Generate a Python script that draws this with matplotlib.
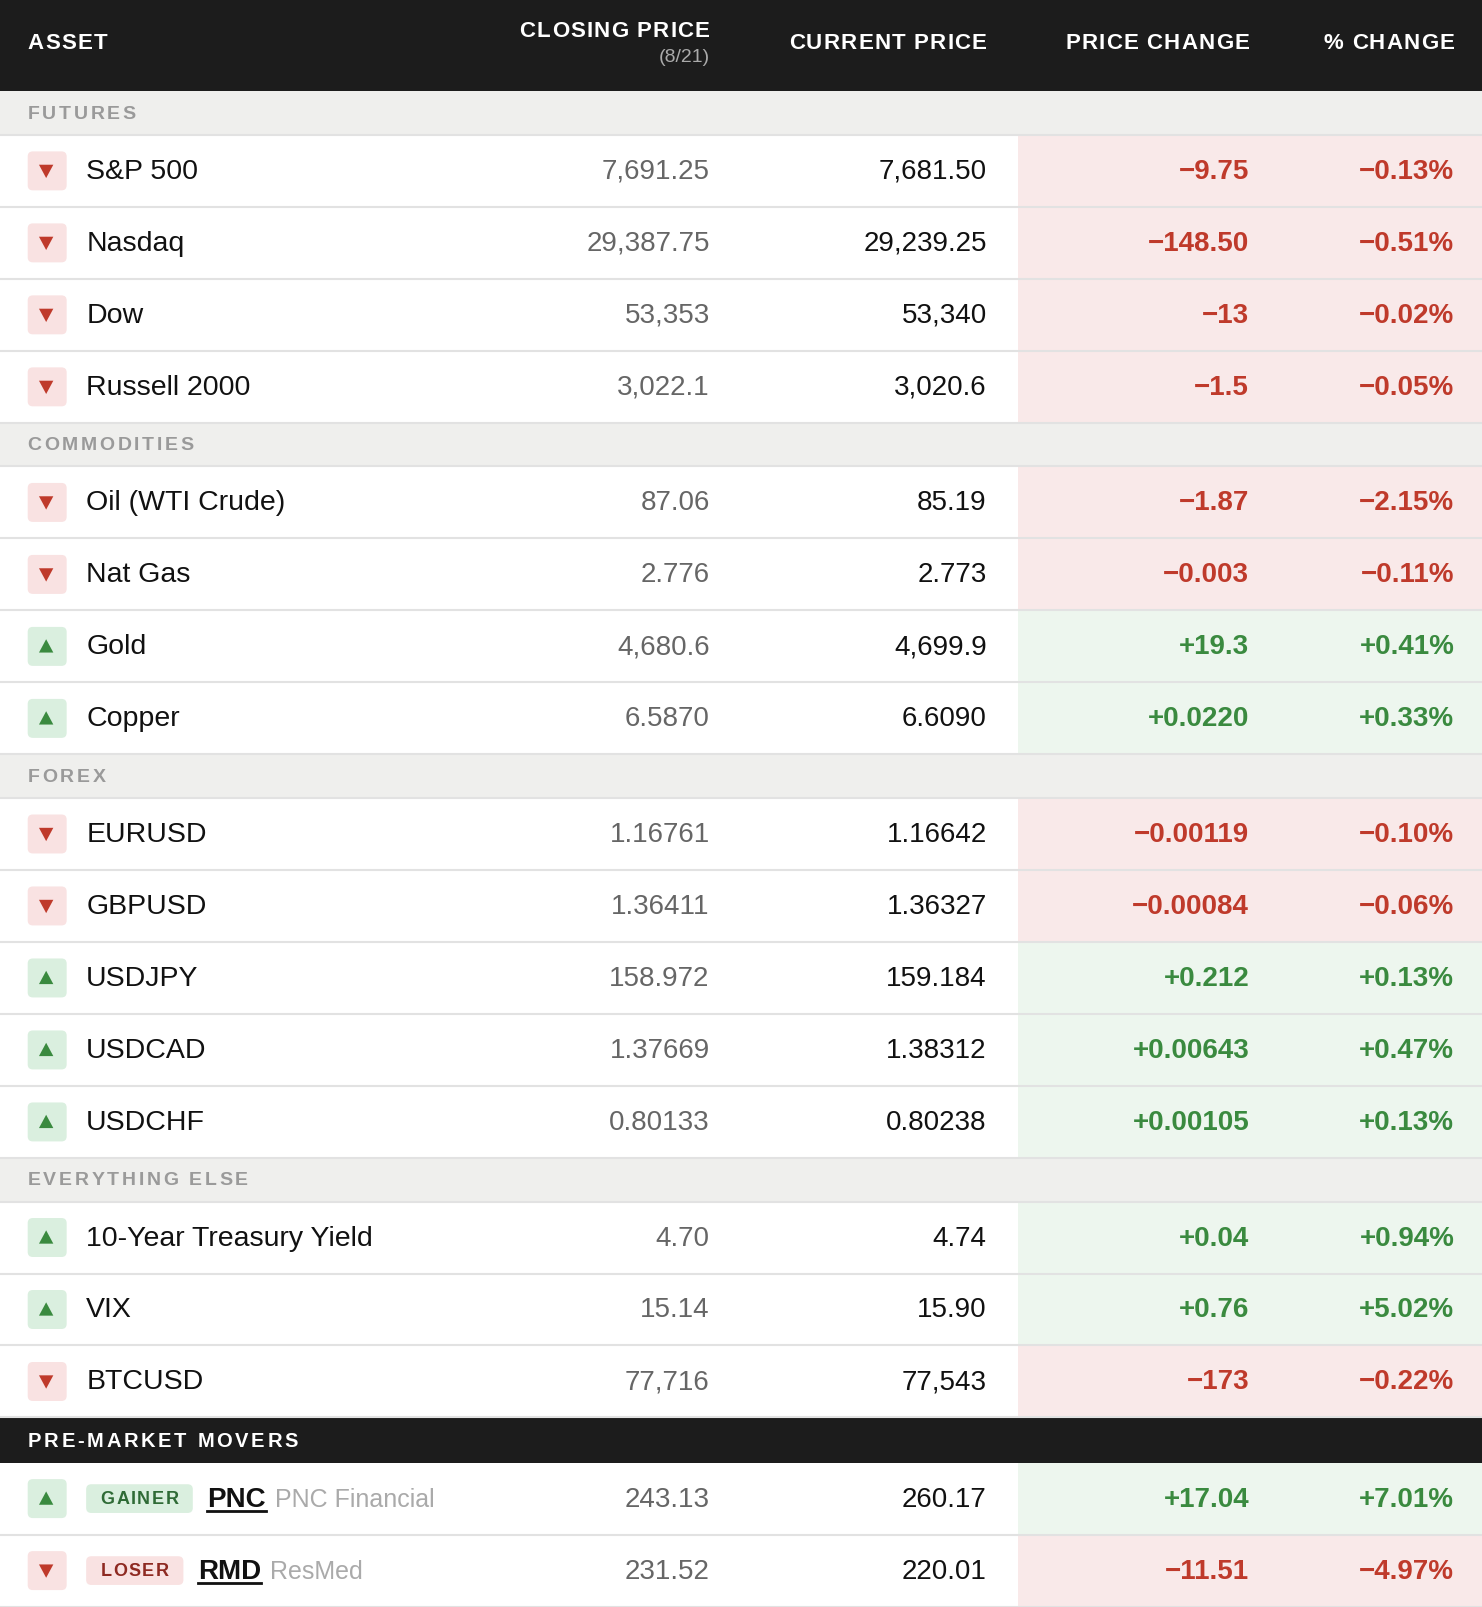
import matplotlib
matplotlib.use("Agg")
import matplotlib.pyplot as plt
from matplotlib.patches import FancyBboxPatch, Rectangle, Polygon

plt.rcParams['font.family'] = ['Liberation Sans', 'DejaVu Sans']

columns = ["ASSET", "CLOSING PRICE", "CURRENT PRICE", "PRICE CHANGE", "% CHANGE"]
sections = ["FUTURES", "COMMODITIES", "FOREX", "EVERYTHING ELSE"]
names = [
    ["S&P 500", "Nasdaq", "Dow", "Russell 2000"],
    ["Oil (WTI Crude)", "Nat Gas", "Gold", "Copper"],
    ["EURUSD", "GBPUSD", "USDJPY", "USDCAD", "USDCHF"],
    ["10-Year Treasury Yield", "VIX", "BTCUSD"],
]
closing = [
    ["7,691.25", "29,387.75", "53,353", "3,022.1"],
    ["87.06", "2.776", "4,680.6", "6.5870"],
    ["1.16761", "1.36411", "158.972", "1.37669", "0.80133"],
    ["4.70", "15.14", "77,716"],
]
current = [
    ["7,681.50", "29,239.25", "53,340", "3,020.6"],
    ["85.19", "2.773", "4,699.9", "6.6090"],
    ["1.16642", "1.36327", "159.184", "1.38312", "0.80238"],
    ["4.74", "15.90", "77,543"],
]
change = [
    ["−9.75", "−148.50", "−13", "−1.5"],
    ["−1.87", "−0.003", "+19.3", "+0.0220"],
    ["−0.00119", "−0.00084", "+0.212", "+0.00643", "+0.00105"],
    ["+0.04", "+0.76", "−173"],
]
pct = [
    ["−0.13%", "−0.51%", "−0.02%", "−0.05%"],
    ["−2.15%", "−0.11%", "+0.41%", "+0.33%"],
    ["−0.10%", "−0.06%", "+0.13%", "+0.47%", "+0.13%"],
    ["+0.94%", "+5.02%", "−0.22%"],
]
movers_tag = ["GAINER", "LOSER"]
movers_ticker = ["PNC", "RMD"]
movers_name = ["PNC Financial", "ResMed"]
movers_close = ["243.13", "231.52"]
movers_current = ["260.17", "220.01"]
movers_change = ["+17.04", "−11.51"]
movers_pct = ["+7.01%", "−4.97%"]

W, H = 1445, 1568
fig = plt.figure(figsize=(14.82, 16.08), dpi=100)
ax = fig.add_axes([0, 0, 1, 1])
ax.set_xlim(0, W); ax.set_ylim(H, 0); ax.axis('off')
fig.canvas.draw()
R = fig.canvas.get_renderer()
PX = W / 1482.0

DARK = "#1c1c1c"; RED = "#bf3a2b"; GREEN = "#3a8a3f"
PINK_BG = "#f9e9e9"; GREEN_BG = "#edf6ee"
PINK_BOX = "#f9e2e2"; GREEN_BOX = "#daefdf"
BAND = "#efefed"; LINE = "#e2e2e2"

def width_of(s, **kw):
    t = ax.text(0, 0, s, **kw)
    w = t.get_window_extent(R).width * PX
    t.remove()
    return w

def spaced(x, y, s, spacing, ha='left', **kw):
    ws = [width_of(c, **kw) for c in s]
    total = sum(ws) + spacing * (len(s) - 1)
    if ha == 'right':
        x = x - total
    for c, w in zip(s, ws):
        ax.text(x, y, c, ha='left', va='center', **kw)
        x += w + spacing

# header
ax.add_patch(Rectangle((0, 0), W, 90, color=DARK))
hkw = dict(fontsize=16, fontweight='bold', color='white')
spaced(27, 42, "ASSET", 1.2, **hkw)
spaced(692, 31, "CLOSING PRICE", 1.2, ha='right', **hkw)
ax.text(692, 56, "(8/21)", ha='right', va='center', fontsize=14, color='#aaaaaa')
spaced(962, 42, "CURRENT PRICE", 1.2, ha='right', **hkw)
spaced(1218, 42, "PRICE CHANGE", 1.2, ha='right', **hkw)
spaced(1418, 42, "% CHANGE", 1.2, ha='right', **hkw)

ROW = 70.2; BANDH = 42.5

def icon(yc, up):
    ax.add_patch(FancyBboxPatch((27, yc - 19), 38, 38, boxstyle="round,pad=0,rounding_size=5",
                                color=GREEN_BOX if up else PINK_BOX, lw=0))
    if up:
        pts = [(38, yc + 6), (52, yc + 6), (45, yc - 7)]
        c = GREEN
    else:
        pts = [(38, yc - 6), (52, yc - 6), (45, yc + 7)]
        c = RED
    ax.add_patch(Polygon(pts, closed=True, color=c, lw=0))

def row_common(y0, up, cl, cu, ch, pc):
    yc = y0 + ROW / 2
    ax.add_patch(Rectangle((993, y0), W - 993, ROW, color=GREEN_BG if up else PINK_BG, lw=0))
    icon(yc, up)
    ax.text(692, yc, cl, ha='right', va='center', fontsize=20, color='#666666')
    ax.text(962, yc, cu, ha='right', va='center', fontsize=20, color='#111111')
    col = GREEN if up else RED
    ax.text(1218, yc, ch, ha='right', va='center', fontsize=20, color=col, fontweight='bold')
    ax.text(1418, yc, pc, ha='right', va='center', fontsize=20, color=col, fontweight='bold')
    ax.plot([0, W], [y0 + ROW, y0 + ROW], color=LINE, lw=1.5)
    return yc

y = 90
for si, sec in enumerate(sections):
    ax.add_patch(Rectangle((0, y), W, BANDH, color=BAND, lw=0))
    ax.plot([0, W], [y + BANDH, y + BANDH], color=LINE, lw=1.5)
    spaced(27, y + BANDH / 2, sec, 2.6, fontsize=14, fontweight='bold', color='#9a9a9a')
    y += BANDH
    for i, n in enumerate(names[si]):
        up = change[si][i].startswith('+')
        yc = row_common(y, up, closing[si][i], current[si][i], change[si][i], pct[si][i])
        ax.text(84, yc, n, ha='left', va='center', fontsize=20.5, color='#111111')
        y += ROW

# pre-market movers
ax.add_patch(Rectangle((0, y), W, 44, color=DARK, lw=0))
spaced(27, y + 22, "PRE-MARKET MOVERS", 2.6, fontsize=14.5, fontweight='bold', color='white')
y += 44
for i in range(len(movers_tag)):
    up = movers_change[i].startswith('+')
    yc = row_common(y, up, movers_close[i], movers_current[i], movers_change[i], movers_pct[i])
    tw = width_of(movers_tag[i], fontsize=13, fontweight='bold') + 1.5 * (len(movers_tag[i]) - 1)
    bw = tw + 28
    ax.add_patch(FancyBboxPatch((84, yc - 14), bw, 28, boxstyle="round,pad=0,rounding_size=5",
                                color=GREEN_BOX if up else PINK_BOX, lw=0))
    spaced(84 + 14, yc, movers_tag[i], 1.5, fontsize=13, fontweight='bold',
           color="#2f6b36" if up else "#8e2a22")
    xt = 84 + bw + 14
    ax.text(xt, yc, movers_ticker[i], ha='left', va='center', fontsize=20, fontweight='bold', color='#111111')
    wt = width_of(movers_ticker[i], fontsize=20, fontweight='bold')
    ax.plot([xt, xt + wt], [yc + 12, yc + 12], color='#111111', lw=2)
    ax.text(xt + wt + 9, yc, movers_name[i], ha='left', va='center', fontsize=18, color='#aaaaaa')
    y += ROW

fig.savefig("out.png", dpi=100, facecolor='white')
